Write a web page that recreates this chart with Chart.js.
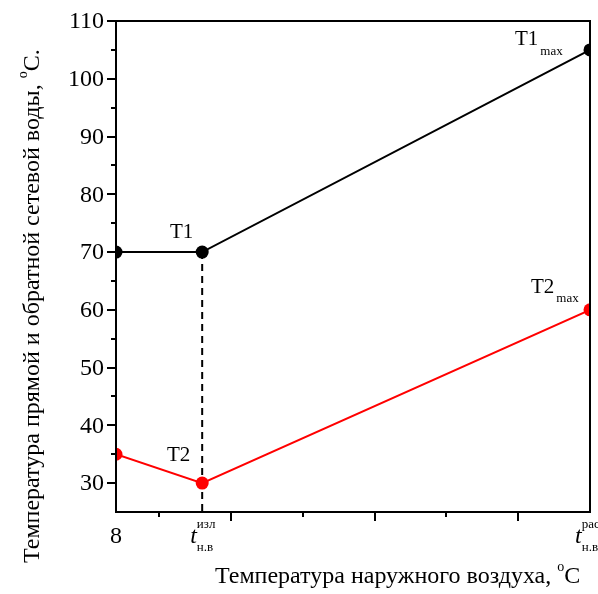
<!DOCTYPE html>
<html>
<head>
<meta charset="utf-8">
<script src="https://cdn.jsdelivr.net/npm/chart.js@4.4.1/dist/chart.umd.min.js"></script>
<style>
  html, body { margin: 0; padding: 0; background: #fff; }
  #wrap { position: relative; width: 598px; height: 594px; }
</style>
</head>
<body>
<div id="wrap"><canvas id="chart"></canvas></div>
<script>
var outdoorTemps = [8, 2, -25];
var supplyTemps = [70, 70, 105];
var returnTemps = [35, 30, 60];
var breakTemp = 2;
var yMajorTicks = [30, 40, 50, 60, 70, 80, 90, 100, 110];
var yMinorTicks = [35, 45, 55, 65, 75, 85, 95, 105];
var xMajorTicks = [0, -10, -20];
var xMinorTicks = [5, -5, -15];

var SERIF = "'Liberation Serif', 'Times New Roman', serif";

function toPoints(xs, ys) {
  return xs.map(function (x, i) { return { x: x, y: ys[i] }; });
}

// draws a run of text pieces (normal / sup / sub) starting at x
function drawRuns(ctx, x, y, runs) {
  runs.forEach(function (r) {
    ctx.font = (r.italic ? 'italic ' : '') + r.size + 'px ' + SERIF;
    ctx.fillText(r.t, x + (r.dx || 0), y + (r.dy || 0));
    if (!r.stay) x += ctx.measureText(r.t).width + (r.dx || 0);
  });
  return x;
}

var decorPlugin = {
  id: 'decor',
  afterDatasetsDraw: function (chart) {
    var ctx = chart.ctx;
    var xs = chart.scales.x, ys = chart.scales.y;
    var a = chart.chartArea;
    ctx.save();
    ctx.strokeStyle = '#000';
    ctx.fillStyle = '#000';
    ctx.lineWidth = 2;
    ctx.lineCap = 'butt';

    // frame
    ctx.beginPath();
    ctx.rect(a.left, a.top, a.right - a.left, a.bottom - a.top);
    ctx.stroke();

    // y ticks (outward)
    ctx.beginPath();
    yMajorTicks.forEach(function (v) {
      var p = Math.round(ys.getPixelForValue(v));
      ctx.moveTo(a.left, p); ctx.lineTo(a.left - 9, p);
    });
    yMinorTicks.forEach(function (v) {
      var p = Math.round(ys.getPixelForValue(v));
      ctx.moveTo(a.left, p); ctx.lineTo(a.left - 5, p);
    });
    // x ticks (outward)
    xMajorTicks.forEach(function (v) {
      var p = Math.round(xs.getPixelForValue(v));
      ctx.moveTo(p, a.bottom); ctx.lineTo(p, a.bottom + 9);
    });
    xMinorTicks.forEach(function (v) {
      var p = Math.round(xs.getPixelForValue(v));
      ctx.moveTo(p, a.bottom); ctx.lineTo(p, a.bottom + 5);
    });
    ctx.stroke();

    // y tick labels
    ctx.font = '24px ' + SERIF;
    ctx.textAlign = 'right';
    ctx.textBaseline = 'middle';
    yMajorTicks.forEach(function (v) {
      ctx.fillText(String(v), a.left - 12, ys.getPixelForValue(v) + 1);
    });

    // x tick labels
    ctx.textBaseline = 'alphabetic';
    ctx.textAlign = 'center';
    ctx.font = '24px ' + SERIF;
    ctx.fillText(String(outdoorTemps[0]), xs.getPixelForValue(outdoorTemps[0]), 543);

    ctx.textAlign = 'left';
    var bx = xs.getPixelForValue(breakTemp);
    drawRuns(ctx, bx - 12, 543, [
      { t: 't', size: 24, italic: true },
      { t: 'изл', size: 13, dy: -15, stay: true },
      { t: 'н.в', size: 13, dy: 8 }
    ]);
    var ex = xs.getPixelForValue(outdoorTemps[2]);
    drawRuns(ctx, ex - 15, 543, [
      { t: 't', size: 24, italic: true },
      { t: 'расч', size: 13, dy: -15, stay: true },
      { t: 'н.в', size: 13, dy: 8 }
    ]);

    // point labels
    drawRuns(ctx, 170, 238, [{ t: 'T1', size: 21 }]);
    drawRuns(ctx, 167, 461, [{ t: 'T2', size: 21 }]);
    drawRuns(ctx, 515, 45, [{ t: 'T1', size: 21 }, { t: 'max', size: 13, dx: 2, dy: 10 }]);
    drawRuns(ctx, 531, 293, [{ t: 'T2', size: 21 }, { t: 'max', size: 13, dx: 2, dy: 9 }]);

    // x axis title
    drawRuns(ctx, 215, 583, [
      { t: 'Температура наружного воздуха, ', size: 24 },
      { t: 'o', size: 14, dy: -12 },
      { t: 'C', size: 24 }
    ]);

    // y axis title
    ctx.save();
    ctx.translate(39, 563);
    ctx.rotate(-Math.PI / 2);
    drawRuns(ctx, 0, 0, [
      { t: 'Температура прямой и обратной сетевой воды, ', size: 24 },
      { t: 'o', size: 14, dy: -12 },
      { t: 'C.', size: 24 }
    ]);
    ctx.restore();

    ctx.restore();
  }
};

new Chart(document.getElementById('chart'), {
  type: 'line',
  data: {
    datasets: [
      {
        label: 'T1',
        data: toPoints(outdoorTemps, supplyTemps),
        borderColor: '#000',
        backgroundColor: '#000',
        borderWidth: 2,
        pointRadius: 6.5,
        pointBorderWidth: 0,
        clip: 0,
        order: 1
      },
      {
        label: 'T2',
        data: toPoints(outdoorTemps, returnTemps),
        borderColor: '#ff0000',
        backgroundColor: '#ff0000',
        borderWidth: 2,
        pointRadius: 6.5,
        pointBorderWidth: 0,
        clip: 0,
        order: 2
      },
      {
        label: 'break',
        data: [{ x: breakTemp, y: supplyTemps[1] }, { x: breakTemp, y: 25 }],
        borderColor: '#000',
        borderWidth: 2,
        borderDash: [7, 5],
        pointRadius: 0,
        clip: 0,
        order: 3
      }
    ]
  },
  options: {
    responsive: true,
    maintainAspectRatio: false,
    animation: false,
    layout: { padding: { left: 116, top: 21, right: 8, bottom: 82 } },
    plugins: { legend: { display: false }, tooltip: { enabled: false } },
    scales: {
      x: { type: 'linear', reverse: true, min: -25, max: 8, display: false },
      y: { type: 'linear', min: 25, max: 110, display: false }
    }
  },
  plugins: [decorPlugin]
});
</script>
</body>
</html>
